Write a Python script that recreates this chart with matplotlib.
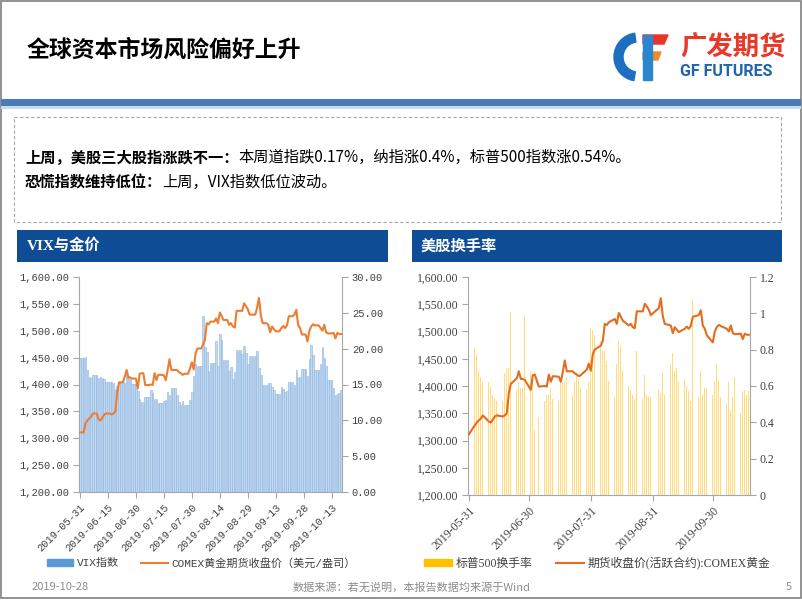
import numpy as np
import pandas as pd
import matplotlib
matplotlib.use('Agg')
import matplotlib.pyplot as plt
from matplotlib.patches import Rectangle, Wedge, Polygon
from matplotlib.lines import Line2D

plt.rcParams['font.family'] = ['Noto Sans CJK SC', 'DejaVu Sans']
plt.rcParams['axes.unicode_minus'] = False

#%% data (trading days 2019-05-31 .. 2019-10-18)
holidays = ['2019-07-04', '2019-09-02']
trade_days = pd.bdate_range('2019-05-31', '2019-10-18').drop(pd.to_datetime(holidays))

# COMEX gold, active contract close (USD/oz)
gold = [1311,
        1328, 1333, 1337, 1340, 1346,
        1335, 1333, 1338, 1344, 1346,
        1344, 1346, 1350, 1386, 1404,
        1414, 1427, 1413, 1413, 1411,
        1393, 1420, 1421, 1399,
        1400, 1399, 1421, 1408, 1418,
        1417, 1408, 1426, 1447, 1427,
        1427, 1423, 1421, 1418, 1420,
        1430, 1441, 1428, 1458, 1467,
        1474, 1483, 1514, 1512, 1517,
        1523, 1514, 1534, 1527, 1520,
        1511, 1514, 1508, 1506, 1537,
        1537, 1551, 1546, 1540, 1530,
        1543, 1561, 1528, 1514,
        1511, 1497, 1508, 1503, 1499,
        1505, 1509, 1505, 1510, 1527,
        1530, 1539, 1511, 1505, 1493,
        1480, 1500, 1508, 1512, 1510,
        1505, 1500, 1511, 1497, 1495,
        1496, 1486, 1496, 1494, 1494]

# VIX index
vix = [18.71,
       18.86, 16.97, 16.09, 15.93, 16.30,
       15.94, 15.99, 15.91, 15.82, 15.28,
       15.35, 15.15, 14.33, 14.75, 15.40,
       15.26, 16.28, 16.21, 15.82, 15.08,
       14.06, 12.93, 12.57, 13.28,
       14.19, 13.86, 13.03, 12.93, 12.39,
       12.68, 12.86, 13.97, 13.53, 14.45,
       13.53, 12.61, 12.07, 12.74, 12.16,
       12.83, 13.94, 16.12, 17.87, 17.61,
       24.59, 20.17, 19.49, 16.91, 17.97,
       21.09, 17.52, 22.10, 21.18, 18.47,
       16.88, 17.50, 15.80, 16.68, 19.87,
       19.32, 20.31, 19.35, 17.88, 18.98,
       19.66, 17.33, 16.27, 15.00,
       15.27, 15.20, 14.61, 14.22, 13.74,
       14.67, 14.44, 13.95, 14.05, 15.32,
       14.91, 17.05, 15.96, 16.07, 17.22,
       16.24, 18.56, 20.56, 19.12, 17.04,
       17.86, 20.28, 18.64, 17.57, 15.58,
       14.57, 13.54, 13.68, 13.79, 14.25]

# S&P 500 turnover (%)
turnover = [0.75,
            0.81, 0.77, 0.68, 0.65, 0.62,
            0.62, 0.60, 0.55, 0.53, 0.52,
            0.52, 0.67, 0.70, 0.70, 1.01,
            0.58, 0.62, 0.59, 0.59, 0.99,
            0.68, 0.66, 0.36, 0.43,
            0.52, 0.55, 0.55, 0.59, 0.53,
            0.52, 0.62, 0.62, 0.62, 0.65,
            0.55, 0.62, 0.67, 0.64, 0.59,
            0.58, 0.62, 0.92, 0.91, 0.88,
            0.85, 0.79, 0.80, 0.74, 0.63,
            0.54, 0.72, 0.85, 0.82, 0.69,
            0.60, 0.58, 0.55, 0.53, 0.79,
            0.53, 0.66, 0.55, 0.54, 0.54,
            0.58, 0.56, 0.67, 0.55,
            0.72, 0.78, 0.68, 0.70, 0.62,
            0.64, 0.60, 0.57, 0.52, 1.08,
            0.54, 0.68, 0.55, 0.59, 0.59,
            0.55, 0.63, 0.72, 0.63, 0.54,
            0.50, 0.62, 0.47, 0.54, 0.65,
            0.45, 0.57, 0.58, 0.55, 0.57]

gold_ticks = [1200, 1250, 1300, 1350, 1400, 1450, 1500, 1550, 1600]
vix_ticks = [0, 5, 10, 15, 20, 25, 30]
turn_ticks = [0, 0.2, 0.4, 0.6, 0.8, 1.0, 1.2]
left_dates = ['2019-05-31', '2019-06-15', '2019-06-30', '2019-07-15', '2019-07-30',
              '2019-08-14', '2019-08-29', '2019-09-13', '2019-09-28', '2019-10-13']
right_dates = ['2019-05-31', '2019-06-30', '2019-07-31', '2019-08-31', '2019-09-30']

#%% figure / slide frame
W, H = 802, 602
fig = plt.figure(figsize=(W / 100, H / 100), dpi=100)


def box(x0, y0, x1, y1):
    # pixel box (top-left origin) -> figure fraction
    return [x0 / W, 1 - y1 / H, (x1 - x0) / W, (y1 - y0) / H]


bg = fig.add_axes([0, 0, 1, 1])
bg.set_xlim(0, W)
bg.set_ylim(H, 0)
bg.axis('off')

bg.add_patch(Rectangle((0.5, 0.5), W - 1.5, 597, fill=False, ec='#7F7F7F', lw=1.2))
bg.add_patch(Rectangle((1, 99), W - 2, 7, color='#4A7DB8', lw=0))
bg.add_patch(Rectangle((1, 106), W - 2, 3, color='#C9DCEF', lw=0))

bg.text(27, 50, '全球资本市场风险偏好上升', fontsize=16.5, weight='bold', va='center', color='black')

# logo
bg.add_patch(Wedge((638, 57), 24, 100, 262, width=9, color='#1E6FBF'))
bg.add_patch(Polygon([(643, 35), (668, 35), (664, 44), (643, 44)], color='#E8352A'))
bg.add_patch(Polygon([(643, 52), (661, 52), (658, 60), (643, 60)], color='#F08A24'))
bg.add_patch(Polygon([(643, 35), (652, 35), (652, 80), (643, 80)], color='#2A86D1'))
bg.text(680, 48, '广发期货', fontsize=19, weight='bold', color='#E73828', va='center')
bg.text(680, 72, 'GF FUTURES', fontsize=11.5, weight='bold', color='#1F64AF', va='center',
        family=['Roboto', 'DejaVu Sans'])

# comment box
bg.add_patch(Rectangle((14, 117), 767, 105, fill=False, ec='#A6A6A6', lw=0.8, ls=(0, (3, 2))))
t1 = bg.text(25, 158, '上周，美股三大股指涨跌不一：', fontsize=11, weight='bold', va='center')
bg.annotate('本周道指跌0.17%，纳指涨0.4%，标普500指数涨0.54%。', xy=(1, 0), xycoords=t1,
            va='bottom', ha='left', fontsize=11)
t2 = bg.text(25, 183, '恐慌指数维持低位：', fontsize=11, weight='bold', va='center')
bg.annotate('上周，VIX指数低位波动。', xy=(1, 0), xycoords=t2, va='bottom', ha='left', fontsize=11)

# chart headers
bg.add_patch(Rectangle((17, 230), 371, 32, color='#0E4C96', lw=0))
bg.add_patch(Rectangle((412, 230), 370, 32, color='#0E4C96', lw=0))
bg.text(27, 246, 'VIX与金价', fontsize=11, weight='bold', color='white', va='center',
        family=['Liberation Serif', 'Noto Sans CJK SC'])
bg.text(421, 246, '美股换手率', fontsize=11, weight='bold', color='white', va='center')

# footer
bg.text(32, 587, '2019-10-28', fontsize=8, color='#8C8C8C', va='center')
bg.text(293, 587, '数据来源：若无说明，本报告数据均来源于Wind', fontsize=8, color='#8C8C8C', va='center')
bg.text(792, 587, '5', fontsize=8, color='#8C8C8C', va='center', ha='right')

#%% left chart: VIX bars + gold line on calendar days
cal = pd.date_range('2019-05-31', '2019-10-18')
vix_cal = pd.Series(vix, index=trade_days).reindex(cal).ffill()
gold_cal = pd.Series(gold, index=trade_days).reindex(cal).ffill()
xc = np.arange(len(cal))

mono = 'Liberation Mono'
grey = '#404040'
ax1 = fig.add_axes(box(79, 277, 342, 492))
ax1b = ax1.twinx()

ax1.bar(xc, vix_cal.values, width=0.8, color='#C2DAF0', edgecolor='#8DB4E2', lw=0.4)
ax1.set_xlim(-0.5, len(cal) - 0.5)
ax1.set_ylim(0, 30)
ax1.yaxis.tick_right()
ax1.set_yticks(vix_ticks)
ax1.set_yticklabels([f'{v:.2f}' for v in vix_ticks], fontfamily=mono, fontsize=7.5, color=grey)
ax1.set_xticks([cal.get_loc(pd.Timestamp(d)) for d in left_dates])
ax1.set_xticklabels(left_dates, rotation=45, ha='right', rotation_mode='anchor',
                    fontfamily=mono, fontsize=7.5, color=grey)
ax1.tick_params(axis='both', length=4, color='#A6A6A6', width=0.8, pad=3)
ax1.spines['top'].set_visible(False)
for s in ['left', 'right', 'bottom']:
    ax1.spines[s].set_color('#A6A6A6')
    ax1.spines[s].set_linewidth(0.8)

ax1b.plot(xc, gold_cal.values, color='#ED7D31', lw=1.5)
ax1b.yaxis.tick_left()
ax1b.set_ylim(1200, 1600)
ax1b.set_yticks(gold_ticks)
ax1b.set_yticklabels([f'{v:,.2f}' for v in gold_ticks], fontfamily=mono, fontsize=7.5, color=grey)
ax1b.tick_params(axis='y', length=4, color='#A6A6A6', width=0.8, pad=3)
for s in ax1b.spines.values():
    s.set_visible(False)

leg1 = ax1.legend([Rectangle((0, 0), 1, 1, color='#5B9BD5'), Line2D([], [], color='#ED7D31', lw=1.5)],
                  ['VIX指数', 'COMEX黄金期货收盘价（美元/盎司）'],
                  loc='center', bbox_to_anchor=(201 / W, 1 - 563 / H), bbox_transform=fig.transFigure,
                  ncol=2, frameon=False, handlelength=2.4, handleheight=0.5, handletextpad=0.3,
                  columnspacing=2.0, prop={'family': [mono, 'Noto Sans CJK SC'], 'size': 8})
for t in leg1.get_texts():
    t.set_color(grey)

#%% right chart: S&P 500 turnover bars + gold line on trading days
xd = (trade_days - trade_days[0]).days
serif = 'Liberation Serif'
ax2 = fig.add_axes(box(468, 277, 750, 495))
ax2b = ax2.twinx()

ax2.bar(xd, turnover, width=0.6, color='#FFDC78', lw=0)
ax2.set_xlim(-0.4, 140.6)
ax2.set_ylim(0, 1.2)
ax2.yaxis.tick_right()
ax2.set_yticks(turn_ticks)
ax2.set_yticklabels([f'{v:g}' for v in turn_ticks], fontfamily=serif, fontsize=8.5, color=grey)
ax2.set_xticks((pd.to_datetime(right_dates) - trade_days[0]).days)
ax2.set_xticklabels(right_dates, rotation=45, ha='right', rotation_mode='anchor',
                    fontfamily=serif, fontsize=8.5, color=grey)
ax2.tick_params(axis='both', length=4, color='#A6A6A6', width=0.8, pad=3)
ax2.spines['top'].set_visible(False)
for s in ['left', 'right', 'bottom']:
    ax2.spines[s].set_color('#A6A6A6')
    ax2.spines[s].set_linewidth(0.8)

ax2b.plot(xd, gold, color='#E46C1E', lw=1.5)
ax2b.yaxis.tick_left()
ax2b.set_ylim(1200, 1600)
ax2b.set_yticks(gold_ticks)
ax2b.set_yticklabels([f'{v:,.2f}' for v in gold_ticks], fontfamily=serif, fontsize=8.5, color=grey)
ax2b.tick_params(axis='y', length=4, color='#A6A6A6', width=0.8, pad=3)
for s in ax2b.spines.values():
    s.set_visible(False)

leg2 = ax2.legend([Rectangle((0, 0), 1, 1, color='#FFC000'), Line2D([], [], color='#E46C1E', lw=1.5)],
                  ['标普500换手率', '期货收盘价(活跃合约):COMEX黄金'],
                  loc='center', bbox_to_anchor=(597 / W, 1 - 563 / H), bbox_transform=fig.transFigure,
                  ncol=2, frameon=False, handlelength=2.4, handleheight=0.5, handletextpad=0.3,
                  columnspacing=2.0, prop={'family': [serif, 'Noto Sans CJK SC'], 'size': 8.5})
for t in leg2.get_texts():
    t.set_color(grey)

fig.savefig('out.png', dpi=100)
